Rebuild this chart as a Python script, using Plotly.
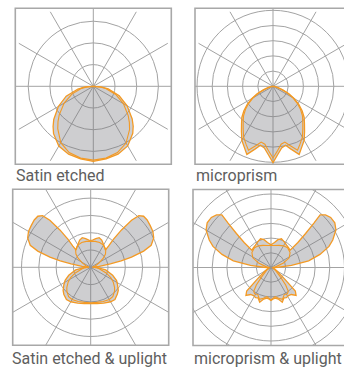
import plotly.graph_objects as go

# figure is a bit wider than the 344 px window: the right frames run off the edge like in the source
W, H = 362, 369

ORANGE = '#f39a25'
GRID = '#a3a3a3'
FILL = 'rgba(120,120,126,0.36)'
FRAME = '#a8a8a8'
TEXT = '#5e5e5e'

# ---------------- data (radius in grid rings) ----------------
# Satin etched
sat_c0_theta = [-92, -85, -80, -70, -60, -50, -45, -40, -30, -20, -10, 0,
                10, 20, 30, 40, 45, 50, 60, 70, 80, 85, 92]
sat_c0_r = [0.0, 0.42, 0.72, 1.33, 1.86, 2.38, 2.62, 2.85, 3.18, 3.33, 3.40, 3.46,
            3.40, 3.33, 3.17, 2.83, 2.60, 2.34, 1.80, 1.27, 0.70, 0.40, 0.0]
sat_c90_theta = sat_c0_theta
sat_c90_r = [0.0, 0.30, 0.55, 1.05, 1.55, 2.05, 2.30, 2.55, 3.00, 3.25, 3.36, 3.40,
             3.36, 3.25, 3.02, 2.60, 2.35, 2.10, 1.60, 1.10, 0.58, 0.32, 0.0]

# microprism
mp_c0_theta = [-92, -80, -75, -70, -65, -60, -55, -50, -45, -40, -35, -30, -25, -21, -16, -12, -8, -4, 0,
               4, 8, 12, 16, 21, 25, 30, 35, 40, 45, 50, 55, 60, 65, 70, 75, 80, 92]
mp_c0_r = [0.0, 0.15, 0.35, 0.68, 1.15, 1.60, 2.07, 2.50, 2.90, 3.22, 3.62, 4.10, 4.45, 4.80, 4.30, 3.97, 4.10, 4.50, 5.02,
           4.50, 4.10, 3.97, 4.30, 4.80, 4.45, 4.10, 3.62, 3.22, 2.90, 2.50, 2.07, 1.60, 1.15, 0.68, 0.35, 0.15, 0.0]
mp_c90_theta = mp_c0_theta
mp_c90_r = [0.0, 0.10, 0.28, 0.60, 1.05, 1.50, 1.95, 2.36, 2.74, 3.05, 3.42, 3.86, 4.20, 4.50, 4.05, 3.75, 3.85, 4.25, 4.72,
            4.25, 3.85, 3.75, 4.05, 4.50, 4.20, 3.86, 3.42, 3.05, 2.74, 2.36, 1.95, 1.50, 1.05, 0.60, 0.28, 0.10, 0.0]

# Satin etched & uplight
su_c0_theta = [-180, -176, -170, -164, -158, -152, -145, -139.5, -140, -141, -140.5, -139, -137, -134, -130, -125,
               -120, -115, -110, -107, -104, -102, -100, -96, -92, -88, -85, -80, -70, -63, -57, -50, -45, -37, -30,
               -20, -10, 0, 10, 20, 30, 37, 45, 50, 57, 63, 70, 80, 85, 88, 92, 96, 100, 102, 104, 107, 110, 115,
               120, 125, 130, 134, 137, 139, 140.5, 141, 140, 139.5, 145, 152, 158, 164, 170, 176, 180]
su_c0_r = [1.56, 1.58, 1.68, 1.78, 1.70, 1.54, 1.40, 1.30, 1.60, 2.10, 2.80, 3.60, 4.08, 4.25, 4.26, 4.20,
           4.15, 4.02, 3.72, 3.20, 2.43, 1.80, 1.15, 0.50, 0.12, 0.30, 0.50, 0.88, 1.35, 1.66, 1.85, 2.08, 2.20, 2.33, 2.30,
           2.20, 2.13, 2.10, 2.13, 2.20, 2.30, 2.33, 2.18, 2.08, 1.85, 1.68, 1.35, 0.88, 0.50, 0.30, 0.12, 0.50, 1.15, 1.80, 2.43, 3.20, 3.72, 4.02,
           4.15, 4.20, 4.26, 4.25, 4.08, 3.60, 2.80, 2.10, 1.60, 1.30, 1.40, 1.54, 1.70, 1.78, 1.68, 1.58, 1.56]
su_c90_theta = [-180, -170, -160, -150, -140, -132, -126, -118, -105, -95, -85, -80, -70, -63, -57, -50, -45, -37, -30,
                -20, -10, 0, 10, 20, 30, 37, 45, 50, 57, 63, 70, 80, 85, 95, 105, 118, 126, 132, 140, 150, 160, 170, 180]
su_c90_r = [1.50, 1.52, 1.52, 1.48, 1.36, 1.15, 0.90, 0.55, 0.25, 0.10, 0.35, 0.50, 0.95, 1.30, 1.55, 1.80, 1.95, 2.12, 2.15,
            2.10, 2.06, 2.05, 2.06, 2.10, 2.15, 2.12, 1.95, 1.80, 1.55, 1.30, 0.95, 0.50, 0.35, 0.10, 0.25, 0.55, 0.90, 1.15, 1.36, 1.48, 1.52, 1.52, 1.50]

# microprism & uplight
mu_c0_theta = [-180, -172, -166, -160, -152, -145, -138, -132, -133, -134.5, -136, -137, -134, -130, -125, -120,
               -114, -110, -105, -100, -96, -92, -88, -75, -60, -52, -50, -46, -42, -37, -32, -27, -23, -18, -13, -8, -4, 0,
               4, 8, 13, 18, 23, 27, 32, 37, 42, 46, 50, 52, 60, 75, 88, 92, 96, 100, 105, 110, 114,
               120, 125, 130, 134, 137, 136, 134.5, 133, 132, 138, 145, 152, 160, 166, 172, 180]
mu_c0_r = [1.55, 1.72, 1.95, 2.08, 1.95, 1.85, 1.80, 1.75, 2.50, 3.30, 4.20, 4.90, 5.15, 5.30, 5.30, 5.10,
           4.60, 4.20, 3.45, 2.60, 1.40, 0.50, 0.15, 0.20, 0.45, 0.90, 1.20, 2.30, 2.55, 2.30, 2.25, 2.30, 2.25, 2.48, 2.20, 2.10, 2.15, 2.25,
           2.15, 2.10, 2.20, 2.48, 2.25, 2.30, 2.25, 2.30, 2.55, 2.30, 1.20, 0.90, 0.45, 0.20, 0.15, 0.50, 1.40, 2.60, 3.45, 4.20, 4.60,
           5.10, 5.30, 5.30, 5.15, 4.90, 4.20, 3.30, 2.50, 1.75, 1.80, 1.85, 1.95, 2.08, 1.95, 1.72, 1.55]
mu_c90_theta = [-180, -170, -160, -150, -140, -128, -118, -110, -100, -90, -70, -55, -45, -40, -36, -32, -26, -20, -14, -8, 0,
                8, 14, 20, 26, 32, 36, 40, 45, 55, 70, 90, 100, 110, 118, 128, 140, 150, 160, 170, 180]
mu_c90_r = [1.50, 1.52, 1.60, 1.70, 1.75, 1.65, 1.40, 0.90, 0.35, 0.10, 0.15, 0.40, 0.90, 1.55, 2.00, 2.10, 2.05, 2.30, 2.15, 2.00, 2.20,
            2.00, 2.15, 2.30, 2.05, 2.10, 2.00, 1.55, 0.90, 0.40, 0.15, 0.10, 0.35, 0.90, 1.40, 1.65, 1.75, 1.70, 1.60, 1.52, 1.50]

labels = ['Satin etched', 'microprism', 'Satin etched & uplight', 'microprism & uplight']

# ---------------- layout of the four diagrams (pixels) ----------------
HALF = 78  # half size of the square frames
panels = [
    dict(sub='polar', cx=93.3, cy=86.3, rad=86, step=21.7, rings=[1, 2, 3],
         c0=(sat_c0_theta, sat_c0_r), c90=(sat_c90_theta, sat_c90_r), lx=14, ly=176),
    dict(sub='polar2', cx=273.0, cy=86.3, rad=86, step=15.2, rings=[1, 2, 3, 4, 5],
         c0=(mp_c0_theta, mp_c0_r), c90=(mp_c90_theta, mp_c90_r), lx=194, ly=176),
    dict(sub='polar3', cx=90.7, cy=267.3, rad=90, step=17.3, rings=[1, 2, 3, 4],
         c0=(su_c0_theta, su_c0_r), c90=(su_c90_theta, su_c90_r), lx=10, ly=358),
    dict(sub='polar4', cx=271.0, cy=267.5, rad=90, step=14.7, rings=[1, 2, 3, 4, 5, 6],
         c0=(mu_c0_theta, mu_c0_r), c90=(mu_c90_theta, mu_c90_r), lx=192, ly=358),
]

fig = go.Figure()
layout = {}
for p, label in zip(panels, labels):
    th, r = p['c0']
    fig.add_trace(go.Scatterpolar(theta=th, r=r, mode='lines', fill='toself', fillcolor=FILL,
                                  line=dict(color=ORANGE, width=1.3), subplot=p['sub'],
                                  hoverinfo='skip', showlegend=False))
    th, r = p['c90']
    fig.add_trace(go.Scatterpolar(theta=th, r=r, mode='lines',
                                  line=dict(color=ORANGE, width=1.1), subplot=p['sub'],
                                  hoverinfo='skip', showlegend=False))
    cx, cy, rad = p['cx'], p['cy'], p['rad']
    layout[p['sub']] = dict(
        domain=dict(x=[max(0, (cx - rad) / W), min(1, (cx + rad) / W)],
                    y=[max(0, 1 - (cy + rad) / H), min(1, 1 - (cy - rad) / H)]),
        bgcolor='rgba(0,0,0,0)',
        angularaxis=dict(rotation=-90, direction='counterclockwise', tickmode='linear',
                         tick0=0, dtick=30, showticklabels=False, ticks='', showline=False,
                         gridcolor=GRID, gridwidth=1),
        radialaxis=dict(range=[0, rad / p['step']], tickvals=p['rings'], showticklabels=False,
                        ticks='', showline=False, gridcolor=GRID, gridwidth=1),
    )
    fig.add_annotation(text=label, x=p['lx'] / W, y=1 - p['ly'] / H, xref='paper', yref='paper',
                       xanchor='left', yanchor='middle', showarrow=False,
                       font=dict(family='Roboto', size=16, color=TEXT))

fig.update_layout(**layout)

# white masks clip the grids to their square frames
boxes = [(p['cx'] - HALF, p['cy'] - HALF, p['cx'] + HALF, p['cy'] + HALF) for p in panels]
b1, b2, b3, b4 = boxes
masks = [
    (0, 0, W, b1[1]),
    (0, b1[3], W, b3[1]),
    (0, b3[3], W, H),
    (0, 0, b1[0], b1[3]),
    (b1[2], 0, b2[0], b1[3]),
    (0, b3[1], b3[0], b3[3]),
    (b3[2], b3[1], b4[0], b3[3]),
]
shapes = []
for x0, y0, x1, y1 in masks:
    shapes.append(dict(type='rect', xref='paper', yref='paper', layer='above',
                       x0=x0 / W, x1=x1 / W, y0=1 - y1 / H, y1=1 - y0 / H,
                       fillcolor='white', line=dict(width=0)))
for x0, y0, x1, y1 in boxes:
    shapes.append(dict(type='rect', xref='paper', yref='paper', layer='above',
                       x0=x0 / W, x1=x1 / W, y0=1 - y1 / H, y1=1 - y0 / H,
                       fillcolor='rgba(0,0,0,0)', line=dict(color=FRAME, width=1.6)))

fig.update_layout(
    width=W, height=H,
    margin=dict(l=0, r=0, t=0, b=0),
    paper_bgcolor='white',
    shapes=shapes,
    showlegend=False,
)

# the page body has a default 8 px margin; drop it so the figure sits at the window's corner
fig.write_html("out.html", config={'displayModeBar': False},
               post_script="document.body.style.margin = '0';")
